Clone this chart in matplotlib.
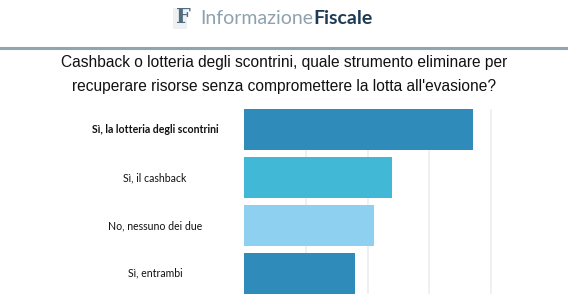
import matplotlib.pyplot as plt
from matplotlib.patches import Rectangle
from matplotlib.transforms import blended_transform_factory

# data
categories = [
    "Sì, la lotteria degli scontrini",
    "Sì, il cashback",
    "No, nessuno dei due",
    "Sì, entrambi",
]
values = [37, 24, 21, 18]
bar_colors = ["#2E8BBA", "#41B8D6", "#8DD0F0", "#2E8BBA"]
title_lines = [
    "Cashback o lotteria degli scontrini, quale strumento eliminare per",
    "recuperare risorse senza compromettere la lotta all'evasione?",
]

W, H = 568, 300
fig = plt.figure(figsize=(W / 100, H / 100), dpi=100)
fig.patch.set_facecolor("white")

# header / logo
fig.add_artist(Rectangle((173 / W, 1 - 29 / H), 14 / W, 21 / H,
                         transform=fig.transFigure, color="#eef1f3", lw=0))
fig.text(183 / W, 1 - 17 / H, "F", family="DejaVu Serif", weight="bold",
         fontsize=15, color="#526d7d", ha="center", va="center")
fig.text(313 / W, 1 - 18 / H, "Informazione", family="Lato", weight="normal",
         fontsize=14, color="#8ea2ae", ha="right", va="center")
fig.text(313 / W, 1 - 18 / H, "Fiscale", family="Lato", weight="bold",
         fontsize=14, color="#1d3b55", ha="left", va="center")
fig.add_artist(plt.Line2D([0, 1], [1 - 47.5 / H] * 2, transform=fig.transFigure,
                          color="#91a5b0", lw=2.2))

# title
for i, line in enumerate(title_lines):
    fig.text(0.5, 1 - (62 + 25 * i) / H, line, family="Liberation Sans",
             fontsize=11.2, color="#111111", ha="center", va="center")

# chart
ax = fig.add_axes([244 / W, 6 / H, 309 / W, 185 / H])
y = list(range(len(categories)))
ax.barh(y, values, height=0.865, color=bar_colors, zorder=2)
ax.set_xlim(0, 50)
ax.set_ylim(3.4325, -0.4325)
ax.set_xticks([10, 20, 30, 40])
ax.grid(axis="x", color="#ededed", lw=1.2, zorder=0)
ax.set_yticks([])
ax.tick_params(axis="x", length=0, labelbottom=False)
for s in ax.spines.values():
    s.set_visible(False)

trans = blended_transform_factory(fig.transFigure, ax.transData)
for i, cat in enumerate(categories):
    ax.text(155 / W, i, cat, transform=trans, ha="center", va="center",
            family="Lato", fontsize=7.6, color="#111111",
            weight="bold" if i == 0 else "normal")

fig.savefig("out.png", dpi=100)
